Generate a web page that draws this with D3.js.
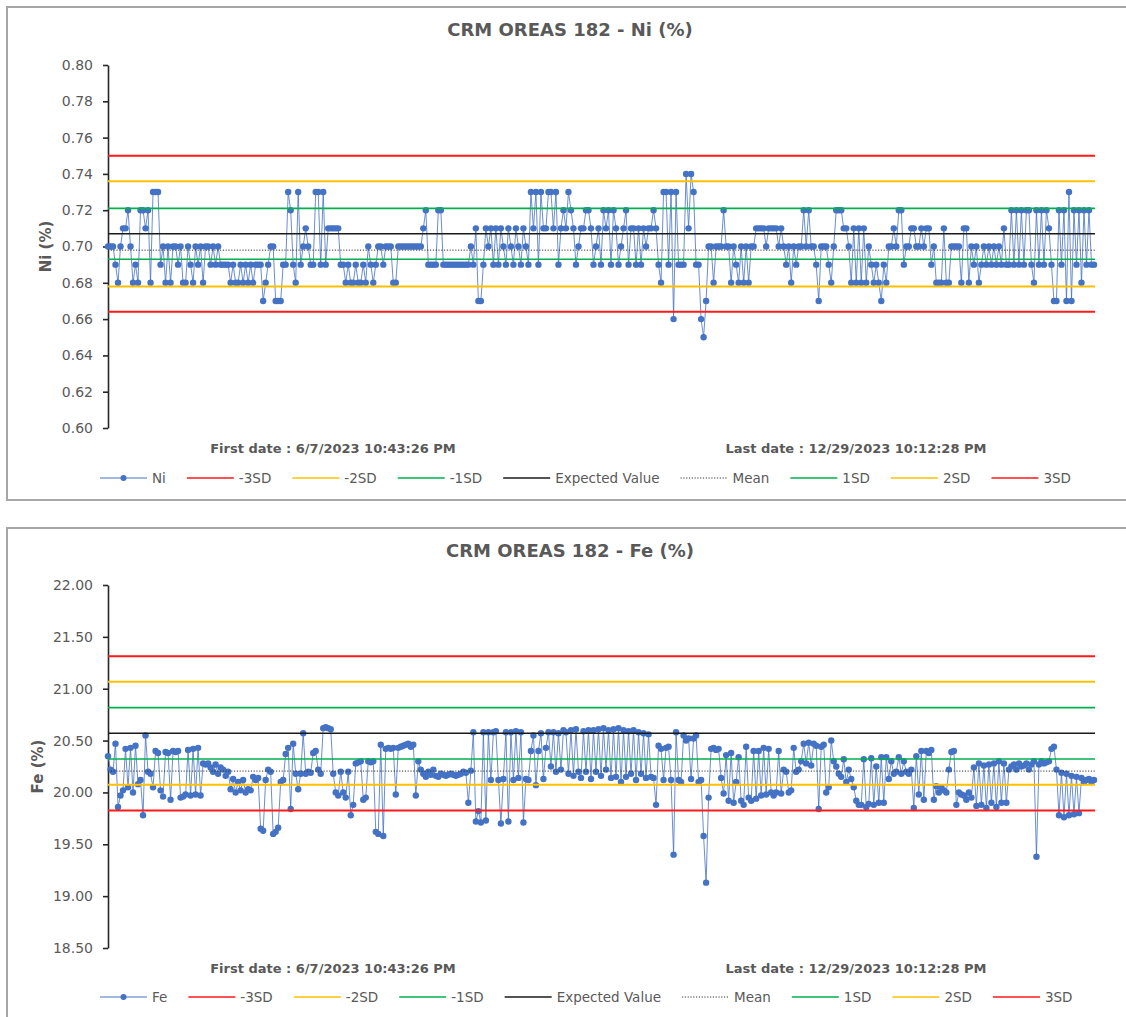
<!DOCTYPE html>
<html><head><meta charset="utf-8">
<script src="https://cdn.jsdelivr.net/npm/d3@7"></script>
<style>body{margin:0;background:#fff}svg{display:block}</style>
</head><body>
<svg id="c" width="1126" height="1017"></svg>
<script>
// ---------- DATA ----------
const niValues = [
0.70,0.70,0.70,0.69,0.68,0.70,0.71,0.71,0.72,0.70,0.68,0.69,0.68,0.72,0.72,0.71,0.72,0.68,0.73,0.73,
0.73,0.69,0.70,0.68,0.70,0.68,0.70,0.70,0.69,0.70,0.68,0.68,0.70,0.69,0.68,0.70,0.69,0.70,0.68,0.70,
0.70,0.69,0.70,0.69,0.70,0.69,0.69,0.69,0.69,0.68,0.69,0.68,0.68,0.69,0.68,0.69,0.68,0.69,0.68,0.69,
0.69,0.69,0.67,0.68,0.69,0.70,0.70,0.67,0.67,0.67,0.69,0.69,0.73,0.72,0.69,0.68,0.73,0.69,0.70,0.71,
0.70,0.69,0.69,0.73,0.73,0.69,0.73,0.69,0.71,0.71,0.71,0.71,0.71,0.69,0.69,0.68,0.69,0.68,0.68,0.69,
0.68,0.68,0.69,0.68,0.70,0.69,0.68,0.69,0.70,0.70,0.69,0.70,0.70,0.70,0.68,0.68,0.70,0.70,0.70,0.70,
0.70,0.70,0.70,0.70,0.70,0.70,0.71,0.72,0.69,0.69,0.69,0.69,0.72,0.72,0.69,0.69,0.69,0.69,0.69,0.69,
0.69,0.69,0.69,0.69,0.69,0.70,0.69,0.71,0.67,0.67,0.69,0.71,0.70,0.71,0.69,0.71,0.69,0.71,0.70,0.69,
0.71,0.70,0.69,0.71,0.70,0.69,0.71,0.70,0.69,0.73,0.71,0.73,0.69,0.73,0.71,0.71,0.73,0.73,0.71,0.73,
0.69,0.71,0.72,0.71,0.73,0.72,0.71,0.69,0.70,0.71,0.71,0.72,0.72,0.71,0.69,0.70,0.71,0.69,0.72,0.71,
0.72,0.69,0.72,0.71,0.69,0.70,0.71,0.72,0.69,0.71,0.71,0.69,0.71,0.69,0.71,0.70,0.71,0.71,0.72,0.71,
0.69,0.68,0.73,0.73,0.69,0.73,0.66,0.73,0.69,0.69,0.69,0.74,0.71,0.74,0.73,0.69,0.69,0.66,0.65,0.67,
0.70,0.70,0.68,0.70,0.70,0.70,0.72,0.70,0.70,0.68,0.70,0.69,0.68,0.70,0.68,0.70,0.68,0.70,0.70,0.71,
0.71,0.71,0.71,0.70,0.71,0.71,0.71,0.71,0.70,0.71,0.70,0.69,0.70,0.68,0.70,0.69,0.70,0.70,0.72,0.70,
0.72,0.70,0.70,0.69,0.67,0.70,0.70,0.70,0.69,0.68,0.70,0.72,0.72,0.72,0.71,0.71,0.70,0.68,0.71,0.68,
0.71,0.68,0.71,0.68,0.70,0.69,0.68,0.69,0.68,0.67,0.69,0.68,0.70,0.70,0.71,0.70,0.72,0.72,0.69,0.70,
0.70,0.71,0.71,0.70,0.70,0.71,0.70,0.71,0.71,0.69,0.70,0.68,0.68,0.68,0.71,0.68,0.68,0.70,0.70,0.70,
0.70,0.68,0.71,0.71,0.68,0.70,0.69,0.70,0.68,0.69,0.70,0.69,0.70,0.69,0.70,0.69,0.70,0.69,0.71,0.69,
0.69,0.72,0.69,0.72,0.69,0.72,0.69,0.72,0.72,0.69,0.68,0.72,0.69,0.72,0.69,0.72,0.71,0.69,0.67,0.67,
0.72,0.69,0.72,0.67,0.73,0.67,0.72,0.69,0.72,0.68,0.72,0.69,0.72,0.69,0.69
];
const feValues = [
20.35,20.22,20.20,20.47,19.86,19.97,20.02,20.42,20.05,20.43,20.00,20.45,20.08,20.12,19.78,20.55,20.20,20.18,20.05,20.40,
20.38,20.02,19.96,20.39,20.38,19.93,20.40,20.39,20.40,19.95,19.96,19.98,20.41,19.97,20.42,19.98,20.43,19.97,20.28,20.27,
20.28,20.24,20.20,20.27,20.18,20.24,20.22,20.16,20.20,20.03,20.13,20.00,20.10,20.02,20.12,20.00,20.03,20.02,20.15,20.12,
20.14,19.65,19.63,20.12,20.22,20.20,19.60,19.62,19.66,20.10,20.12,20.37,20.43,19.84,20.47,20.18,20.03,20.18,20.57,20.18,
20.20,20.19,20.38,20.40,20.22,20.18,20.62,20.63,20.62,20.61,20.18,20.00,19.97,20.20,20.00,19.95,20.20,19.78,19.88,20.28,
20.29,20.30,19.93,19.95,20.30,20.29,20.30,19.62,19.60,20.46,19.58,20.42,20.43,20.42,20.43,19.98,20.43,20.44,20.45,20.46,
20.47,20.44,20.46,19.97,20.30,20.22,20.18,20.15,20.20,20.17,20.22,20.16,20.15,20.18,20.17,20.16,20.17,20.18,20.17,20.16,
20.17,20.18,20.20,20.19,19.90,20.21,20.58,19.72,19.82,19.71,20.58,19.73,20.58,20.12,20.58,20.59,20.12,19.70,20.13,20.58,
19.72,20.58,20.12,20.59,20.14,20.58,19.71,20.13,20.12,20.40,20.55,20.07,20.40,20.57,20.13,20.43,20.58,20.25,20.58,20.20,
20.57,20.22,20.60,20.58,20.18,20.60,20.16,20.61,20.20,20.14,20.59,20.20,20.60,20.13,20.60,20.20,20.61,20.16,20.62,20.22,
20.60,20.14,20.61,20.15,20.62,20.10,20.60,20.15,20.59,20.18,20.60,20.12,20.58,20.18,20.57,20.14,20.56,20.15,20.14,19.88,
20.45,20.42,20.12,20.43,20.44,20.12,19.40,20.58,20.12,20.10,20.55,20.50,20.52,20.13,20.52,20.55,20.10,20.12,19.58,19.13,
19.95,20.42,20.43,20.41,20.42,20.14,19.99,20.36,19.92,20.38,19.90,20.10,20.34,19.92,19.88,20.44,19.95,19.92,20.40,19.94,
20.40,19.97,20.43,19.98,20.42,20.00,19.97,20.00,20.40,19.99,20.22,20.20,20.00,20.02,20.43,20.20,20.22,20.30,20.47,20.28,
20.48,20.26,20.47,20.45,19.84,20.44,20.46,20.00,20.05,20.50,20.30,20.25,20.18,20.15,20.32,20.10,20.22,20.13,20.05,19.92,
19.88,19.88,20.32,19.86,19.89,20.33,19.88,20.25,19.90,20.34,19.90,20.34,20.13,20.30,20.18,20.20,20.34,20.18,20.30,20.20,
20.18,20.22,19.85,20.35,19.98,20.40,19.93,20.40,20.38,20.41,19.93,20.06,20.00,20.05,20.02,20.00,20.22,20.39,20.40,19.88,
20.00,19.98,19.97,19.93,20.00,19.95,20.24,19.87,20.28,19.88,20.26,19.85,20.27,19.90,20.28,19.86,20.30,19.90,20.28,19.90,
20.22,20.25,20.27,20.22,20.28,20.25,20.26,20.28,20.22,20.27,20.30,19.38,20.27,20.30,20.28,20.29,20.30,20.42,20.44,20.22,
19.78,20.19,19.76,20.18,19.78,20.16,19.79,20.15,19.80,20.14,20.10,20.12,20.13,20.10,20.12
];
const niTicks = [0.60,0.62,0.64,0.66,0.68,0.70,0.72,0.74,0.76,0.78,0.80];
const feTicks = [18.50,19.00,19.50,20.00,20.50,21.00,21.50,22.00];
const limitNames = ["-3SD","-2SD","-1SD","Expected Value","Mean","1SD","2SD","3SD"];
const niLimitValues = [0.664,0.678,0.693,0.707,0.698,0.721,0.736,0.750];
const feLimitValues = [19.826,20.074,20.322,20.570,20.206,20.818,21.066,21.314];
const firstDate = "First date : 6/7/2023  10:43:26 PM";
const lastDate = "Last date : 12/29/2023  10:12:28 PM";

// ---------- STYLE ----------
const limitStyle = {
  "-3SD": {c:"#ff1a1a", w:2, d:null},
  "-2SD": {c:"#ffc000", w:2, d:null},
  "-1SD": {c:"#00b050", w:1.6, d:null},
  "Expected Value": {c:"#1a1a1a", w:1.6, d:null},
  "Mean": {c:"#333333", w:1, d:"1.2,1.6"},
  "1SD": {c:"#00b050", w:1.6, d:null},
  "2SD": {c:"#ffc000", w:2, d:null},
  "3SD": {c:"#ff1a1a", w:2, d:null}
};
const blue = "#4472c4";
const txt = "#595959";
const FONT = "'DejaVu Sans', sans-serif";

const svg = d3.select("#c");
svg.append("rect").attr("width",1126).attr("height",1017).attr("fill","#fff");

function drawChart(o){
  const g = svg.append("g");
  g.append("rect").attr("x",7).attr("y",o.top).attr("width",1140).attr("height",o.panelH)
    .attr("fill","#fff").attr("stroke","#a6a6a6").attr("stroke-width",2);
  const x = d3.scaleLinear().domain([0,o.values.length-1]).range([108,1094]);
  const y = d3.scaleLinear().domain(o.domain).range([o.plotBottom,o.plotTop]);
  g.append("text").attr("x",570).attr("y",o.top+29).attr("text-anchor","middle")
    .attr("font-family",FONT).attr("font-weight","bold").attr("font-size",18)
    .attr("fill",txt).text(o.title);
  const ax = g.append("g").attr("transform","translate(108,0)")
    .call(d3.axisLeft(y).tickValues(o.ticks).tickFormat(d3.format(".2f")).tickSize(5).tickPadding(10).tickSizeOuter(0));
  ax.select(".domain").attr("stroke","#262626").attr("stroke-width",1.6);
  ax.selectAll(".tick line").attr("stroke","#262626").attr("stroke-width",1.6);
  ax.selectAll(".tick text").attr("font-family",FONT).attr("font-size",14).attr("fill",txt);
  g.append("text").attr("transform",`translate(${o.labelX},${(o.plotTop+o.plotBottom)/2}) rotate(-90)`)
    .attr("text-anchor","middle").attr("dy","0.35em").attr("font-family",FONT).attr("font-weight","bold")
    .attr("font-size",15).attr("fill",txt).text(o.yLabel);
  const line = d3.line().x((d,i)=>x(i)).y(d=>y(d));
  g.append("path").datum(o.values).attr("d",line).attr("fill","none")
    .attr("stroke",blue).attr("stroke-width",1).attr("stroke-opacity",0.8);
  g.selectAll("circle.pt").data(o.values).join("circle").attr("class","pt")
    .attr("cx",(d,i)=>x(i)).attr("cy",d=>y(d)).attr("r",3.2).attr("fill",blue);
  limitNames.forEach((n,i)=>{
    const s = limitStyle[n];
    g.append("line").attr("x1",108).attr("x2",1095).attr("y1",y(o.limits[i])).attr("y2",y(o.limits[i]))
      .attr("stroke",s.c).attr("stroke-width",s.w).attr("stroke-dasharray",s.d);
  });
  g.append("text").attr("x",333).attr("y",o.dateY).attr("text-anchor","middle").attr("font-family",FONT)
    .attr("font-weight","bold").attr("font-size",13).attr("fill",txt).text(firstDate);
  g.append("text").attr("x",856).attr("y",o.dateY).attr("text-anchor","middle").attr("font-family",FONT)
    .attr("font-weight","bold").attr("font-size",13).attr("fill",txt).text(lastDate);
  const names = [o.seriesName].concat(limitNames);
  let cx = 100;
  const ly = o.legendY;
  names.forEach((n,i)=>{
    const symW = 47;
    if(i===0){
      g.append("line").attr("x1",cx).attr("x2",cx+symW).attr("y1",ly).attr("y2",ly).attr("stroke",blue).attr("stroke-width",1.2);
      g.append("circle").attr("cx",cx+symW/2).attr("cy",ly).attr("r",3).attr("fill",blue);
    } else {
      const s = limitStyle[n];
      g.append("line").attr("x1",cx).attr("x2",cx+symW).attr("y1",ly).attr("y2",ly)
        .attr("stroke",s.c).attr("stroke-width",Math.min(s.w,1.6)).attr("stroke-dasharray",s.d);
    }
    const t = g.append("text").attr("x",cx+symW+5).attr("y",ly).attr("dy","0.35em").attr("font-family",FONT)
      .attr("font-size",13.5).attr("fill",txt).text(n);
    cx = cx + symW + 5 + t.node().getComputedTextLength() + 21;
  });
}

drawChart({top:7,panelH:493,plotTop:65,plotBottom:428,domain:[0.60,0.80],ticks:niTicks,values:niValues,
  limits:niLimitValues,title:"CRM OREAS 182 - Ni (%)",yLabel:"Ni (%)",seriesName:"Ni",labelX:46,dateY:453,legendY:478});
drawChart({top:528,panelH:600,plotTop:585,plotBottom:948,domain:[18.50,22.00],ticks:feTicks,values:feValues,
  limits:feLimitValues,title:"CRM OREAS 182 - Fe (%)",yLabel:"Fe (%)",seriesName:"Fe",labelX:38,dateY:973,legendY:997});
</script>
</body></html>
